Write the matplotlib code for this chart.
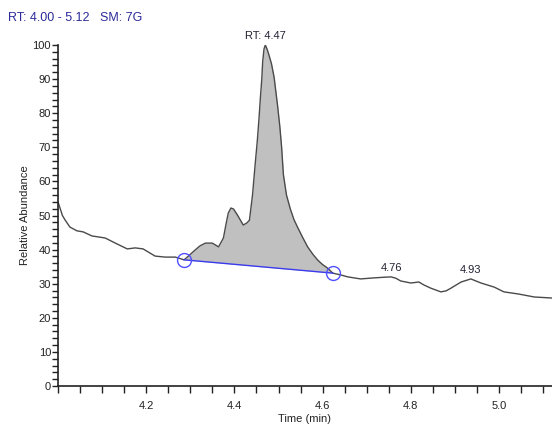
import numpy as np
import matplotlib.pyplot as plt
from matplotlib.ticker import MultipleLocator

plt.rcParams["font.family"] = ["Liberation Sans", "DejaVu Sans"]

# chromatogram trace (time in min, relative abundance)
time = [4.000, 4.005, 4.010, 4.016, 4.027, 4.043, 4.057, 4.077, 4.107, 4.130,
        4.157, 4.175, 4.193, 4.220, 4.243, 4.266, 4.286, 4.300, 4.311, 4.322,
        4.334, 4.350, 4.364, 4.375, 4.381, 4.386, 4.392, 4.398, 4.407, 4.420,
        4.428, 4.434, 4.441, 4.447, 4.452, 4.456, 4.459, 4.462, 4.464, 4.467,
        4.470, 4.474, 4.478, 4.484, 4.490, 4.498, 4.503, 4.507, 4.511, 4.518,
        4.527, 4.535, 4.543, 4.555, 4.566, 4.578, 4.589, 4.600, 4.611, 4.623,
        4.640, 4.657, 4.686, 4.716, 4.740, 4.755, 4.766, 4.777, 4.800, 4.818,
        4.830, 4.845, 4.868, 4.880, 4.891, 4.914, 4.936, 4.959, 4.989, 5.011,
        5.043, 5.080, 5.120]
abund = [54.0, 52.0, 50.0, 48.7, 46.6, 45.5, 45.2, 44.0, 43.4, 41.9,
         40.2, 40.5, 40.2, 38.1, 37.8, 37.8, 37.0, 38.6, 39.9, 41.1,
         41.9, 41.9, 40.8, 43.4, 47.5, 50.7, 52.2, 51.9, 50.1, 47.2,
         47.8, 48.6, 56.0, 65.0, 72.1, 79.0, 84.8, 90.0, 95.0, 98.8,
         100.0, 98.8, 97.2, 94.5, 90.5, 82.0, 76.0, 70.0, 62.0, 56.0,
         51.8, 48.8, 46.6, 43.5, 40.8, 38.6, 36.9, 35.6, 34.6, 33.1,
         32.6, 32.0, 31.4, 31.7, 31.9, 32.0, 31.6, 30.8, 30.2, 30.5,
         29.6, 28.7, 27.6, 27.9, 28.7, 30.5, 31.4, 30.2, 29.0, 27.6,
         27.0, 26.1, 25.8]

# integration window (baseline end points)
base_t = [4.286, 4.623]
base_y = [37.0, 33.1]

# peak labels
peak_labels = ["RT: 4.47", "4.76", "4.93"]
peak_t = [4.470, 4.755, 4.935]
peak_y = [100.0, 32.0, 31.4]

time = np.array(time)
abund = np.array(abund)

fig = plt.figure(figsize=(5.52, 4.28), dpi=100)
ax = fig.add_axes([58 / 552, 1 - 386 / 428, 494 / 552, 341 / 428])

# filled peak area between trace and baseline
m = (time >= base_t[0]) & (time <= base_t[1])
bl = np.interp(time[m], base_t, base_y)
ax.fill_between(time[m], bl, abund[m], color="#c0c0c0", lw=0)
ax.plot(time, abund, color="#4a4a4a", lw=1.0)
ax.plot(base_t, base_y, color="#3a3af0", lw=1.0)
ax.plot(base_t, base_y, "o", ms=10, mfc="none", mec="#5050ff", mew=1.0)

for lab, t, y in zip(peak_labels, peak_t, peak_y):
    ax.annotate(lab, (t, y), xytext=(0, 3), textcoords="offset points",
                ha="center", va="bottom", fontsize=8, color="#222233",
                annotation_clip=False)

ax.set_xlim(4.00, 5.12)
ax.set_ylim(0, 100)
ax.xaxis.set_major_locator(MultipleLocator(0.2))
ax.xaxis.set_minor_locator(MultipleLocator(0.05))
ax.yaxis.set_major_locator(MultipleLocator(10))
ax.yaxis.set_minor_locator(MultipleLocator(2))
ax.set_xticks([4.2, 4.4, 4.6, 4.8, 5.0])
ax.set_xticklabels(["4.2", "4.4", "4.6", "4.8", "5.0"])
ax.tick_params(axis="x", which="both", length=5, width=1, direction="out",
               labelsize=8, pad=6, colors="#222222")
ax.tick_params(axis="y", which="both", length=4, width=1, direction="out",
               labelsize=8, pad=1, colors="#222222")
for s in ["top", "right"]:
    ax.spines[s].set_visible(False)
for s in ["left", "bottom"]:
    ax.spines[s].set_color("#222222")
    ax.spines[s].set_linewidth(1.2)

ax.set_xlabel("Time (min)", fontsize=8, color="#222222", labelpad=2)
ax.set_ylabel("Relative Abundance", fontsize=8, color="#222222", labelpad=2)

fig.text(8 / 552, 1 - 18 / 428, "RT: 4.00 - 5.12   SM: 7G", fontsize=9,
         color="#2b2b9a", va="center", ha="left")

fig.savefig("out.png", dpi=100)
